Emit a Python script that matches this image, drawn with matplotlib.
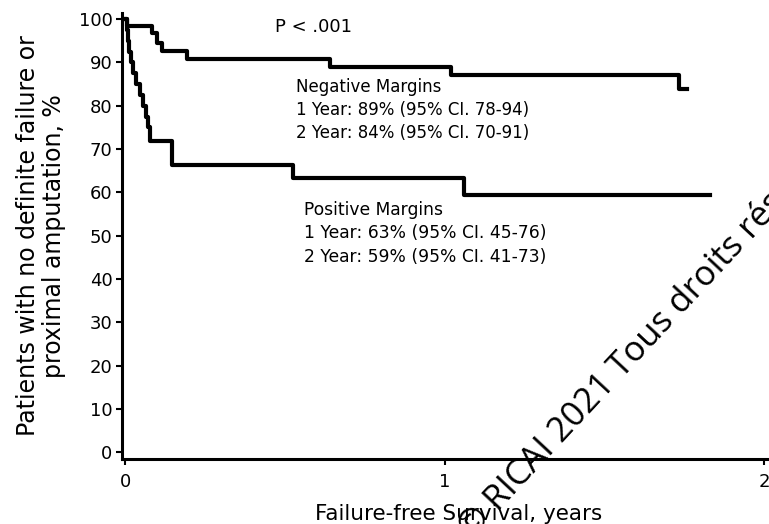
import matplotlib
matplotlib.use("Agg")
import matplotlib.pyplot as plt

# Kaplan-Meier steps (years, % event-free)
neg_t = [0, 0.005, 0.083, 0.099, 0.115, 0.193, 0.64, 1.02, 1.735, 1.76]
neg_s = [100, 98.4, 96.7, 94.6, 92.6, 90.8, 89.0, 87.0, 83.8, 83.8]

pos_t = [0, 0.004, 0.008, 0.013, 0.018, 0.024, 0.035, 0.045, 0.056, 0.064,
         0.072, 0.078, 0.146, 0.525, 1.06, 1.83]
pos_s = [100, 97.5, 95, 92.5, 90, 87.5, 85, 82.5, 80, 77.5,
         75, 71.8, 66.3, 63.3, 59.4, 59.4]

x_ticks = [0, 1, 2]
y_ticks = list(range(0, 101, 10))

neg_lines = ["Negative Margins",
             "1 Year: 89% (95% CI. 78-94)",
             "2 Year: 84% (95% CI. 70-91)"]
pos_lines = ["Positive Margins",
             "1 Year: 63% (95% CI. 45-76)",
             "2 Year: 59% (95% CI. 41-73)"]

plt.rcParams['font.family'] = ['DejaVu Sans']

fig = plt.figure(figsize=(7.69, 5.24), dpi=100)
ax = fig.add_axes([0.159, 0.124, 0.841, 0.851])

ax.step(neg_t, neg_s, where='post', color='black', lw=3)
ax.step(pos_t, pos_s, where='post', color='black', lw=3)

ax.set_xlim(-0.0094, 2.0156)
ax.set_ylim(-1.6, 101.4)
ax.set_xticks(x_ticks)
ax.set_yticks(y_ticks)
ax.tick_params(labelsize=13, width=1.5, length=4, color='black')
ax.tick_params(axis='x', pad=6)
ax.tick_params(axis='y', pad=3)

for s in ['top', 'right']:
    ax.spines[s].set_visible(False)
for s in ['left', 'bottom']:
    ax.spines[s].set_linewidth(2.2)

ax.set_ylabel("Patients with no definite failure or\nproximal amputation, %",
              fontsize=17, labelpad=9, linespacing=1.1)
ax.set_xlabel("Failure-free Survival, years", fontsize=15.5)
ax.xaxis.set_label_coords(0.52, -0.1)

ax.text(0.47, 98.2, "P < .001", fontsize=13, va='center', ha='left')

for i, line in enumerate(neg_lines):
    ax.text(0.535, 84.3 - 5.35 * i, line, fontsize=12, va='center', ha='left')
for i, line in enumerate(pos_lines):
    ax.text(0.56, 56.0 - 5.5 * i, line, fontsize=12.3, va='center', ha='left')

# watermark
fig.text(0.614, -0.03, "© RICAI 2021 Tous droits réservés", fontsize=25,
         family='Open Sans', rotation=47, rotation_mode='anchor',
         ha='left', va='baseline', color='black')

fig.savefig("out.png", dpi=100)
